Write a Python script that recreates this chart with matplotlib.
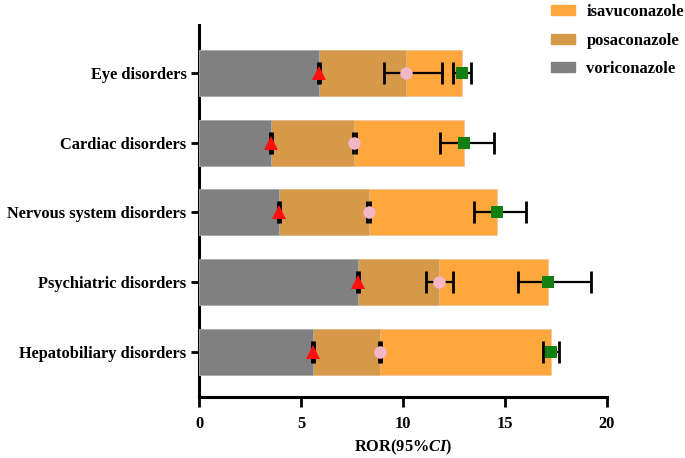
import matplotlib.pyplot as plt
from matplotlib.patches import Patch

plt.rcParams['font.family'] = ['Liberation Serif', 'DejaVu Serif']
plt.rcParams['font.weight'] = 'bold'
plt.rcParams['axes.labelweight'] = 'bold'
plt.rcParams['mathtext.fontset'] = 'custom'
plt.rcParams['mathtext.it'] = 'Liberation Serif:italic:bold'
plt.rcParams['mathtext.rm'] = 'Liberation Serif:bold'

categories = ["Eye disorders", "Cardiac disorders", "Nervous system disorders",
              "Psychiatric disorders", "Hepatobiliary disorders"]

vori = [5.9, 3.55, 3.92, 7.8, 5.6]
vori_lo = [5.85, 3.5, 3.87, 7.74, 5.55]
vori_hi = [5.95, 3.6, 3.97, 7.86, 5.65]

posa = [10.17, 7.62, 8.32, 11.75, 8.85]
posa_lo = [9.05, 7.55, 8.24, 11.15, 8.8]
posa_hi = [11.9, 7.7, 8.4, 12.45, 8.9]

isa = [12.88, 12.98, 14.6, 17.12, 17.25]
isa_lo = [12.47, 11.8, 13.5, 15.65, 16.85]
isa_hi = [13.32, 14.45, 16.05, 19.2, 17.65]

c_vori = '#808080'
c_posa = '#D6994A'
c_isa = '#FFA63C'

fig = plt.figure(figsize=(6.85, 4.58), dpi=100)
ax = fig.add_axes([199/685, 1-397/458, 408/685, 372/458])

y = list(range(len(categories)))
h = 0.66
ax.barh(y, isa, height=h, color=c_isa, edgecolor='#f3c79a', linewidth=0.6, zorder=1)
ax.barh(y, posa, height=h, color=c_posa, edgecolor='#e0b88a', linewidth=0.6, zorder=2)
ax.barh(y, vori, height=h, color=c_vori, edgecolor='#b0b0b0', linewidth=0.6, zorder=3)

def ci(vals, lo, hi):
    return [[v - l for v, l in zip(vals, lo)], [u - v for v, u in zip(vals, hi)]]

for vals, lo, hi in [(vori, vori_lo, vori_hi), (posa, posa_lo, posa_hi), (isa, isa_lo, isa_hi)]:
    ax.errorbar(vals, y, xerr=ci(vals, lo, hi), fmt='none', ecolor='black',
                elinewidth=1.6, capsize=8, capthick=2, zorder=4)

ax.plot(vori, y, '^', color='#FF1010', ms=10, mew=0, zorder=5)
ax.plot(posa, y, 'o', color='#F2B6C6', ms=9, mew=0, zorder=5)
ax.plot(isa, y, 's', color='#118011', ms=8, mew=0, zorder=5)

ax.set_yticks(y)
ax.set_yticklabels(categories)
ax.set_ylim(4.645, -0.685)
ax.set_xlim(0, 20)
ax.set_xticks([0, 5, 10, 15, 20])
ax.tick_params(labelsize=11.8, width=2, length=6)
ax.tick_params(axis='x', length=7, pad=7)
ax.tick_params(axis='y', pad=3)
ax.spines['top'].set_visible(False)
ax.spines['right'].set_visible(False)
ax.spines['left'].set_linewidth(2.2)
ax.spines['bottom'].set_linewidth(2.2)
ax.set_xlabel('ROR($\\mathit{95\\%CI)}$', fontsize=11.8, labelpad=4)

handles = [Patch(color=c_isa, label='isavuconazole'),
           Patch(color=c_posa, label='posaconazole'),
           Patch(color=c_vori, label='voriconazole')]
fig.legend(handles=handles, loc='upper left', bbox_to_anchor=(0.783, 1.024),
           frameon=False, fontsize=12, handlelength=1.4, handleheight=0.55,
           labelspacing=0.75, handletextpad=0.7)

fig.savefig('out.png', dpi=100)
